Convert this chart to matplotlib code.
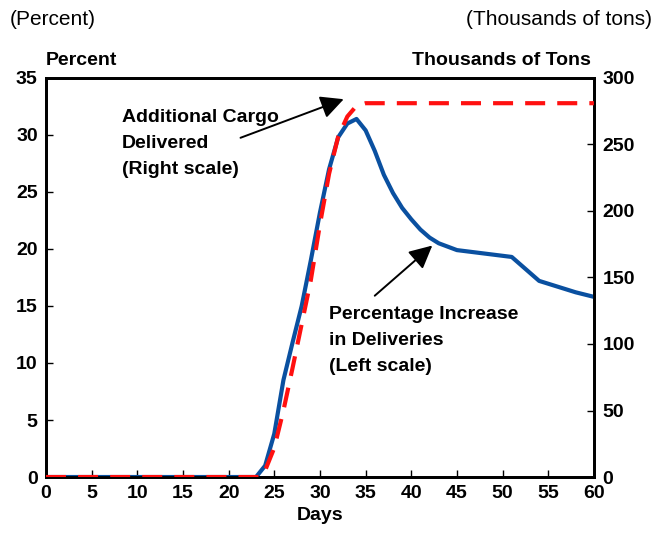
import matplotlib

matplotlib.use("Agg")
import matplotlib.pyplot as plt

plt.rcParams["font.family"] = ["Liberation Sans Narrow", "Liberation Sans", "DejaVu Sans"]

# percentage increase in deliveries (left scale)
pct_days = [0, 23, 24, 25, 26, 27, 28, 29, 30, 31, 32, 33, 34, 35, 36, 37, 38, 39, 40,
            41, 42, 43, 44, 45, 48, 51, 52, 53, 54, 56, 58, 60]
pct_vals = [0, 0, 1.0, 3.8, 8.5, 11.8, 15.0, 19.0, 23.2, 27.0, 29.8, 31.0, 31.4, 30.4,
            28.6, 26.5, 24.9, 23.6, 22.6, 21.7, 21.0, 20.5, 20.2, 19.9, 19.6, 19.3,
            18.6, 17.9, 17.2, 16.7, 16.2, 15.8]

# additional cargo delivered (right scale, thousands of tons)
cargo_days = [0, 23.5, 24, 25, 26, 27, 28, 29, 30, 31, 32, 33, 34, 35, 60]
cargo_vals = [0, 0, 5, 22, 50, 82, 115, 148, 190, 228, 256, 271, 279, 281, 281]

x_ticks = list(range(0, 61, 5))
left_ticks = list(range(0, 36, 5))
right_ticks = list(range(0, 301, 50))

fig = plt.figure(figsize=(6.57, 5.43), dpi=100)
ax = fig.add_axes([0.070, 0.1215, 0.834, 0.735])
ax2 = ax.twinx()

ax.plot(pct_days, pct_vals, color="#0a50a0", lw=3, zorder=3)
ax2.plot(cargo_days, cargo_vals, color="#ff1010", lw=3, ls=(0, (4.8, 2.9)), zorder=4)

ax.set_xlim(0, 60)
ax.set_ylim(0, 35)
ax2.set_ylim(0, 300)
ax.set_xticks(x_ticks)
ax.set_yticks(left_ticks)
ax2.set_yticks(right_ticks)

tick_font = dict(fontsize=14, fontweight="bold")
ax.set_xticklabels([str(t) for t in x_ticks], **tick_font)
ax.set_yticklabels([str(t) for t in left_ticks], **tick_font)
ax2.set_yticklabels([str(t) for t in right_ticks], **tick_font)
ax.tick_params(axis="both", direction="in", length=5, width=1, pad=6)
ax2.tick_params(axis="y", direction="in", length=5, width=1, pad=6)
for a in (ax, ax2):
    for s in a.spines.values():
        s.set_linewidth(2)

ax.set_xlabel("Days", fontsize=14, fontweight="bold", labelpad=3)

fig.text(0.015, 0.965, "(Percent)", fontsize=15, ha="left", va="center")
fig.text(0.993, 0.965, "(Thousands of tons)", fontsize=15, ha="right", va="center")
fig.text(0.070, 0.888, "Percent", fontsize=14, fontweight="bold", ha="left", va="center")
fig.text(0.900, 0.888, "Thousands of Tons", fontsize=14, fontweight="bold", ha="right", va="center")

arrow = dict(arrowstyle="-|>,head_length=0.7,head_width=0.35", color="black", lw=1.4,
             mutation_scale=20, shrinkA=0, shrinkB=0)

ax2.text(8.3, 277, "Additional Cargo\nDelivered\n(Right scale)", fontsize=14,
         fontweight="bold", ha="left", va="top", linespacing=1.7, zorder=5)
ax2.annotate("", xy=(32.6, 284), xytext=(21.3, 255), arrowprops=arrow, zorder=5)

ax.text(31.0, 15.0, "Percentage Increase\nin Deliveries\n(Left scale)", fontsize=14,
        fontweight="bold", ha="left", va="top", linespacing=1.7)
ax.annotate("", xy=(42.3, 20.3), xytext=(36.0, 15.9), arrowprops=arrow)

fig.savefig("out.png", dpi=100)
